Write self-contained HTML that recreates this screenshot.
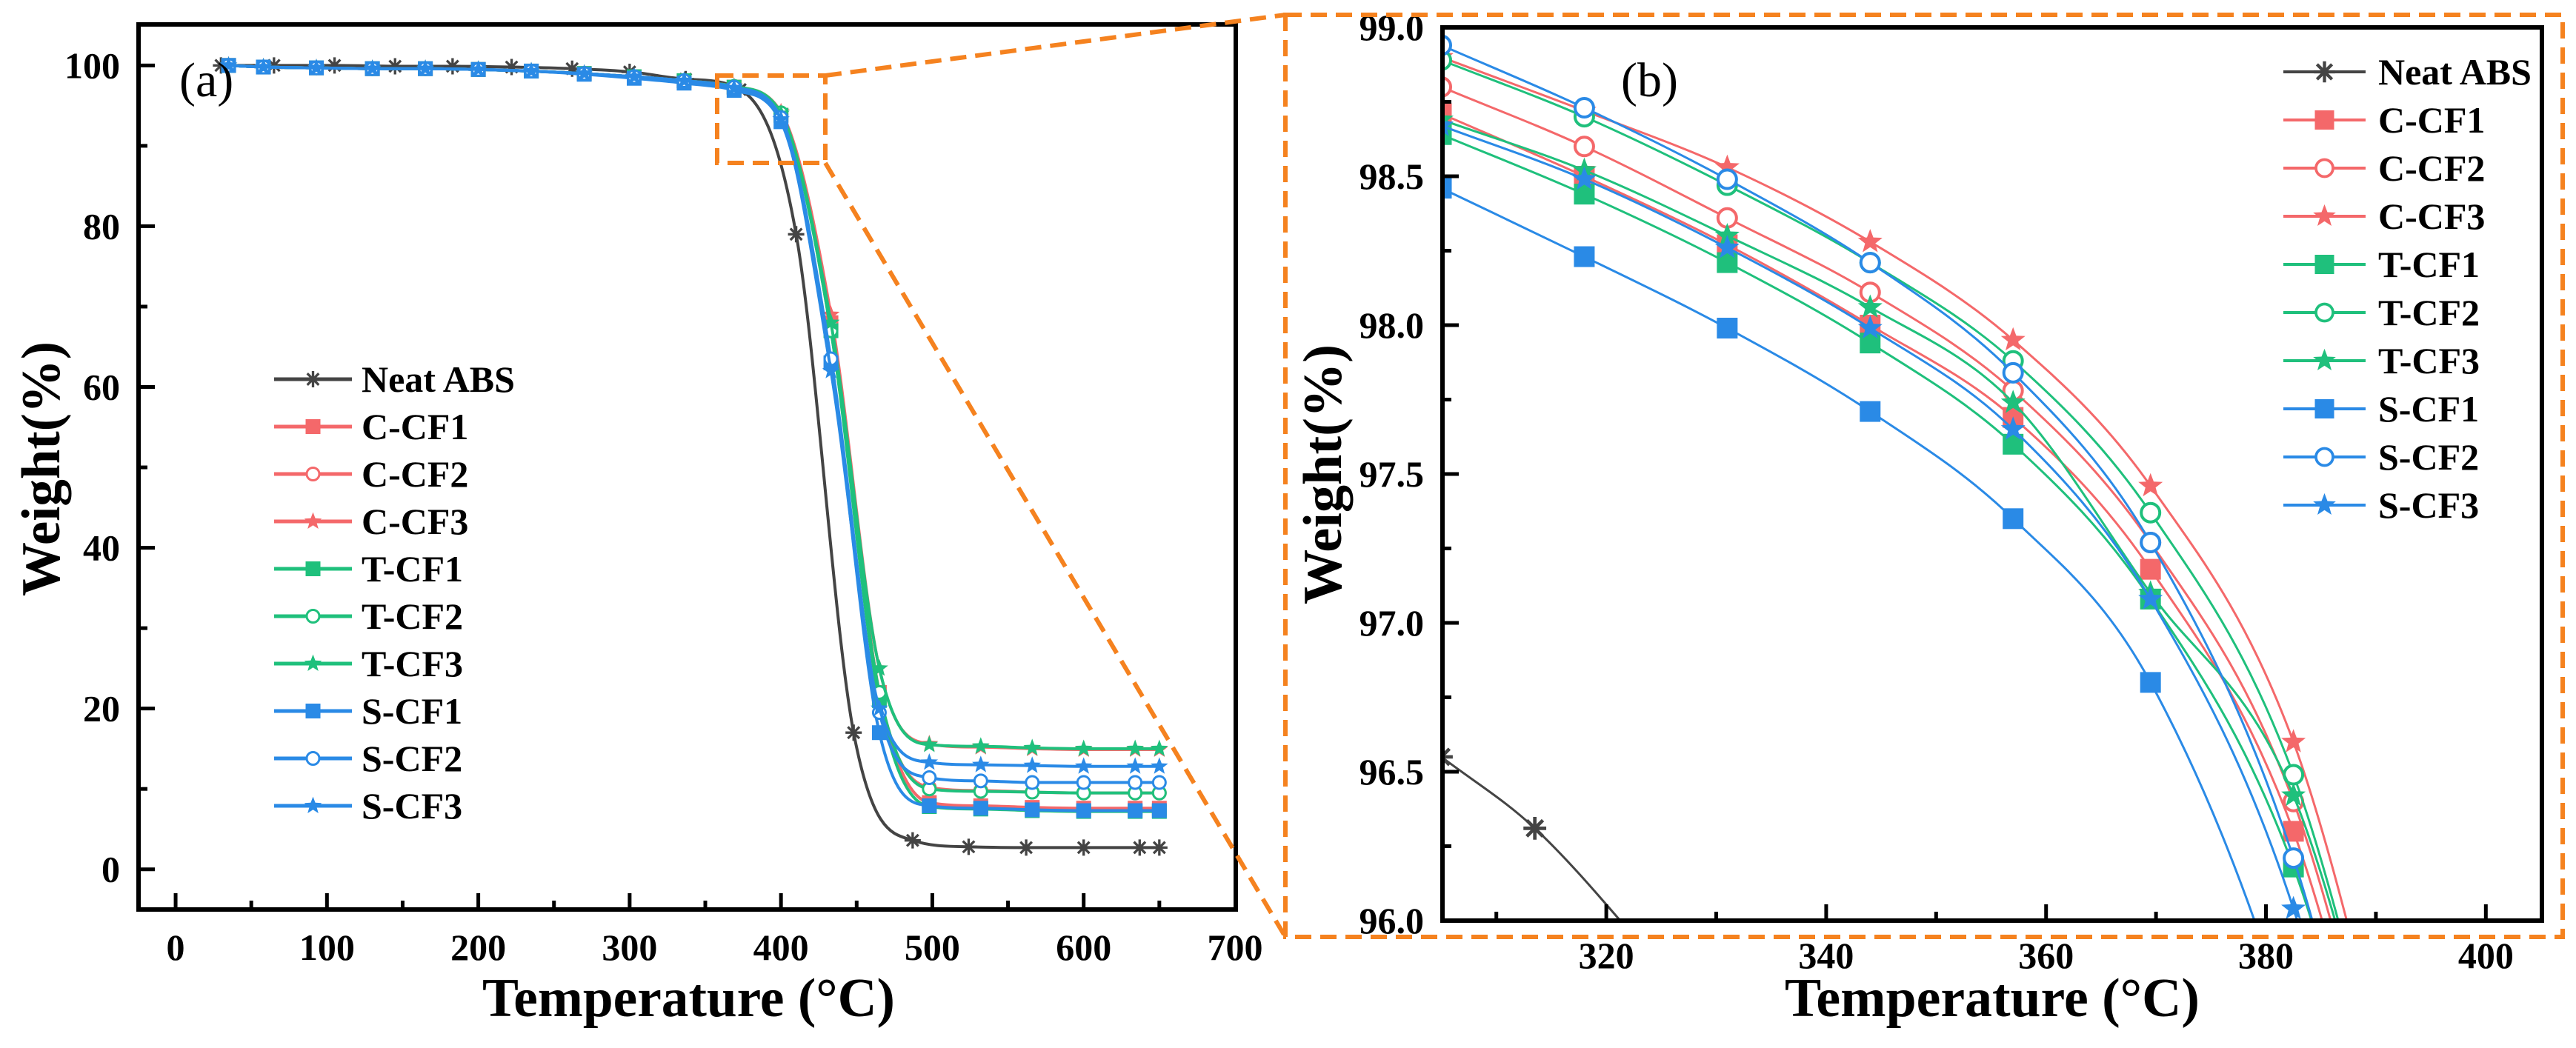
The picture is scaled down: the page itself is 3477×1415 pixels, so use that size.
<!DOCTYPE html>
<html><head><meta charset="utf-8"><style>
html,body{margin:0;padding:0;background:#fff;width:3477px;height:1415px;overflow:hidden;}
svg{display:block;font-family:"Liberation Serif","DejaVu Serif",serif;}
</style></head><body>
<svg id="fig" width="3477" height="1415" viewBox="0 0 3477 1415" xmlns="http://www.w3.org/2000/svg">
<defs>
<clipPath id="clipA"><rect x="187" y="33" width="1481" height="1195"/></clipPath>
<clipPath id="clipB"><rect x="1947" y="37" width="1484" height="1206"/></clipPath>
</defs>
<g id="panelA"></g>
<g id="panelB"></g>
<g id="zoomlines"></g>
</svg>
<script>
// ---------- data: panel (a) ----------
const seriesNames = ["Neat ABS","C-CF1","C-CF2","C-CF3","T-CF1","T-CF2","T-CF3","S-CF1","S-CF2","S-CF3"];
const seriesColors = ["#444444","#f4686a","#f4686a","#f4686a","#1fc07c","#1fc07c","#1fc07c","#2a8ae6","#2a8ae6","#2a8ae6"];
const seriesMarkers = ["asterisk","square","circle","star","square","circle","star","square","circle","star"];

const tempsNeatA = [30,65,105,145,183,222,262,300,337,373,410,448,487,524,562,600,637,650];
const weightNeatA = [100,100,100,99.9,99.9,99.8,99.6,99.2,98.3,97.0,79,17,3.6,2.8,2.7,2.7,2.7,2.7];
const tempsCFA = [35,58,93,130,165,200,235,270,303,336,369,400,433,465,498,532,566,600,634,650];
const weightCCF1 = [100,99.8,99.7,99.6,99.6,99.5,99.3,99.0,98.6,98.1,97.3,93.8,68,22,8.3,7.9,7.7,7.6,7.6,7.6];
const weightCCF2 = [100,99.8,99.7,99.6,99.6,99.5,99.3,99.0,98.6,98.1,97.3,93.9,68,22,10.2,9.8,9.6,9.5,9.5,9.5];
const weightCCF3 = [100,99.8,99.7,99.6,99.6,99.5,99.3,99.0,98.6,98.1,97.4,94.2,69,25,15.6,15.2,15.0,14.9,14.9,14.9];
const weightTCF1 = [100,99.8,99.7,99.6,99.6,99.5,99.3,99.0,98.6,98.1,97.3,93.8,67,21,7.8,7.5,7.3,7.2,7.2,7.2];
const weightTCF2 = [100,99.8,99.7,99.6,99.6,99.5,99.3,99.0,98.6,98.1,97.4,94.1,67,22,10.0,9.7,9.6,9.5,9.5,9.5];
const weightTCF3 = [100,99.8,99.7,99.6,99.6,99.5,99.3,99.0,98.6,98.1,97.3,94.0,68,25,15.5,15.3,15.1,15.0,15.0,15.0];
const weightSCF1 = [100,99.8,99.7,99.6,99.6,99.5,99.3,98.9,98.4,97.8,96.9,93.0,63,17,7.9,7.6,7.4,7.3,7.3,7.3];
const weightSCF2 = [100,99.8,99.7,99.6,99.6,99.5,99.3,99.0,98.6,98.1,97.3,93.5,63.5,19.5,11.4,11.0,10.8,10.8,10.8,10.8];
const weightSCF3 = [100,99.8,99.7,99.6,99.6,99.5,99.3,99.0,98.6,98.1,97.2,93.3,62,20,13.3,13.0,12.9,12.8,12.8,12.8];
const xTicksA = [0,100,200,300,400,500,600,700];
const yTicksA = [0,20,40,60,80,100];

// ---------- data: panel (b) ----------
const tempsNeatB = [305,313.5,326];
const weightNeatB = [96.55,96.31,95.8];
const tempsCFB = [305,318,331,344,357,369.5,382.5,393];
const zCCF1 = [98.71,98.50,98.27,98.00,97.69,97.18,96.30,94.9];
const zCCF2 = [98.80,98.60,98.36,98.11,97.78,97.27,96.40,95.0];
const zCCF3 = [98.90,98.72,98.53,98.28,97.95,97.46,96.60,95.2];
const zTCF1 = [98.64,98.44,98.21,97.94,97.60,97.08,96.18,94.8];
const zTCF2 = [98.89,98.70,98.47,98.21,97.88,97.37,96.49,95.1];
const zTCF3 = [98.69,98.52,98.30,98.06,97.74,97.10,96.42,95.1];
const zSCF1 = [98.46,98.23,97.99,97.71,97.35,96.80,95.60,94.0];
const zSCF2 = [98.94,98.73,98.49,98.21,97.84,97.27,96.21,94.7];
const zSCF3 = [98.67,98.49,98.26,97.99,97.65,97.08,96.04,94.5];
const xTicksB = [320,340,360,380,400];
const yTicksB = [96.0,96.5,97.0,97.5,98.0,98.5,99.0];

const NS = "http://www.w3.org/2000/svg";
function mk(tag, attrs, parent){const e=document.createElementNS(NS,tag);for(const k in attrs)e.setAttribute(k,attrs[k]);if(parent)parent.appendChild(e);return e;}

function monoPath(px,py){
  const n=px.length; if(n<2) return "";
  const d=[],m=new Array(n);
  for(let i=0;i<n-1;i++) d.push((py[i+1]-py[i])/(px[i+1]-px[i]));
  m[0]=d[0]; m[n-1]=d[n-2];
  for(let i=1;i<n-1;i++){ if(d[i-1]*d[i]<=0) m[i]=0; else m[i]=(d[i-1]+d[i])/2; }
  for(let i=0;i<n-1;i++){ if(d[i]===0){m[i]=0;m[i+1]=0;continue;}
    const a=m[i]/d[i],b=m[i+1]/d[i],s=a*a+b*b; if(s>9){const t=3/Math.sqrt(s);m[i]=t*a*d[i];m[i+1]=t*b*d[i];}}
  let p="M"+px[0]+","+py[0];
  for(let i=0;i<n-1;i++){const h=(px[i+1]-px[i])/3;
    p+=" C"+(px[i]+h)+","+(py[i]+m[i]*h)+" "+(px[i+1]-h)+","+(py[i+1]-m[i+1]*h)+" "+px[i+1]+","+py[i+1];}
  return p;
}

function marker(g,type,x,y,s,color){
  let e;
  if(type==="square"){e=mk("rect",{x:x-s/2,y:y-s/2,width:s,height:s,fill:color},g);}
  else if(type==="circle"){e=mk("circle",{cx:x,cy:y,r:s/2-1.5,fill:"#fff",stroke:color,"stroke-width":Math.max(3,s/7)},g);}
  else if(type==="star"){let pts=[];for(let k=0;k<10;k++){const r=k%2?s*0.26:s*0.62;const a=-Math.PI/2+k*Math.PI/5;pts.push((x+r*Math.cos(a)).toFixed(1)+","+(y+r*Math.sin(a)).toFixed(1));}
    e=mk("polygon",{points:pts.join(" "),fill:color},g);}
  else {let d="";for(let k=0;k<4;k++){const a=k*Math.PI/4;const r=s*0.55;d+="M"+(x-r*Math.cos(a))+","+(y-r*Math.sin(a))+"L"+(x+r*Math.cos(a))+","+(y+r*Math.sin(a));}
    e=mk("path",{d:d,stroke:color,"stroke-width":Math.max(3,s/6),fill:"none"},g);}
  
  
  return e;
}

function drawPanel(cfg){
  const root=document.getElementById(cfg.id);
  const sx=v=>cfg.x0+(v-cfg.xmin)/(cfg.xmax-cfg.xmin)*(cfg.x1-cfg.x0);
  const sy=v=>cfg.y1-(v-cfg.ymin)/(cfg.ymax-cfg.ymin)*(cfg.y1-cfg.y0);
  const series=mk("g",{"clip-path":"url(#"+cfg.clip+")"},root);
  
  
  for(let i=0;i<cfg.data.length;i++){
    const ds=cfg.data[i];
    const g=mk("g",{},series);
    
    
    const px=ds.t.map(sx),py=ds.w.map(sy);
    const path=mk("path",{d:monoPath(px,py),fill:"none",stroke:seriesColors[i],"stroke-width":cfg.lw},g);
    
    
    for(let k=0;k<px.length;k++) marker(g,seriesMarkers[i],px[k],py[k],cfg.ms,seriesColors[i]);
  }
  const fr=mk("rect",{x:cfg.x0,y:cfg.y0,width:cfg.x1-cfg.x0,height:cfg.y1-cfg.y0,fill:"none",stroke:"#000","stroke-width":6},root);
  
  
  for(let v=cfg.xmin;v<=cfg.xmax+1e-9;v+=cfg.xminor){
    const vv=Math.round(v/cfg.xminor)*cfg.xminor;
    if(vv<cfg.xmin-1e-9) continue;
    const major=Math.abs(vv/cfg.xmajor-Math.round(vv/cfg.xmajor))<1e-6;
    const X=sx(vv); if(X<cfg.x0+4||X>cfg.x1-4) continue;
    const t=mk("line",{x1:X,x2:X,y1:cfg.y1,y2:cfg.y1-(major?22:12),stroke:"#000","stroke-width":5},root);
    
    
  }
  for(let v=cfg.ymin;v<=cfg.ymax+1e-9;v+=cfg.yminor){
    const vv=Math.round(v/cfg.yminor)*cfg.yminor;
    const major=Math.abs(vv/cfg.ymajor-Math.round(vv/cfg.ymajor))<1e-6;
    const Y=sy(vv); if(Y<cfg.y0+4||Y>cfg.y1-4) continue;
    const t=mk("line",{x1:cfg.x0,x2:cfg.x0+(major?22:12),y1:Y,y2:Y,stroke:"#000","stroke-width":5},root);
    
    
  }
  cfg.xticks.forEach(v=>{
    const t=mk("text",{x:sx(v),y:cfg.xlabY,"text-anchor":"middle","font-size":50,"font-weight":"bold"},root);
    t.textContent=cfg.xfmt(v);
    
    
  });
  cfg.yticks.forEach(v=>{
    const t=mk("text",{x:cfg.ylabX,y:sy(v)+17,"text-anchor":"end","font-size":50,"font-weight":"bold"},root);
    t.textContent=cfg.yfmt(v);
    
    
  });
  const xt=mk("text",{x:cfg.xtitle[0],y:cfg.xtitle[1],"font-size":74,"font-weight":"bold",textLength:cfg.xtitle[2],lengthAdjust:"spacingAndGlyphs"},root);
  xt.textContent="Temperature (°C)";
  
  
  const yt=mk("text",{transform:"translate("+cfg.ytitle[0]+","+cfg.ytitle[1]+") rotate(-90)","font-size":74,"font-weight":"bold",textLength:cfg.ytitle[2],lengthAdjust:"spacingAndGlyphs"},root);
  yt.textContent="Weight(%)";
  
  
  const pl=mk("text",{x:cfg.plabel[0],y:cfg.plabel[1],"font-size":66},root);
  pl.textContent=cfg.plabel[2];
  
  
  const lg=mk("g",{},root);
  
  
  seriesNames.forEach((n,i)=>{
    const L=cfg.legend, Y=L.y+i*L.dy;
    const e=mk("g",{},lg);
    
    
    mk("line",{x1:L.x1,x2:L.x2,y1:Y,y2:Y,stroke:seriesColors[i],"stroke-width":cfg.lw+1},e);
    marker(e,seriesMarkers[i],(L.x1+L.x2)/2,Y,L.ms,seriesColors[i]);
    const t=mk("text",{x:L.tx,y:Y+17,"font-size":L.fs,"font-weight":"bold"},e);
    t.textContent=n;
  });
}

drawPanel({id:"panelA",clip:"clipA",x0:187,x1:1668,y0:33,y1:1228,xmin:-24.5,xmax:700.5,ymin:-5,ymax:105.1,
  xminor:50,xmajor:100,yminor:10,ymajor:20,lw:4,ms:20,
  data:[{t:tempsNeatA,w:weightNeatA},{t:tempsCFA,w:weightCCF1},{t:tempsCFA,w:weightCCF2},{t:tempsCFA,w:weightCCF3},
        {t:tempsCFA,w:weightTCF1},{t:tempsCFA,w:weightTCF2},{t:tempsCFA,w:weightTCF3},
        {t:tempsCFA,w:weightSCF1},{t:tempsCFA,w:weightSCF2},{t:tempsCFA,w:weightSCF3}],
  xticks:xTicksA,yticks:yTicksA,xfmt:v=>String(v),yfmt:v=>String(v),xlabY:1296,ylabX:162,
  xtitle:[651,1372,557],ytitle:[80,805,344],plabel:[242,130,"(a)"],
  legend:{x1:370,x2:475,tx:488,y:512,dy:64,ms:20,fs:50}});

drawPanel({id:"panelB",clip:"clipB",x0:1947,x1:3431,y0:37,y1:1243,xmin:305.1,xmax:405.1,ymin:96,ymax:99,
  xminor:10,xmajor:20,yminor:0.25,ymajor:0.5,lw:3,ms:28,
  data:[{t:tempsNeatB,w:weightNeatB},{t:tempsCFB,w:zCCF1},{t:tempsCFB,w:zCCF2},{t:tempsCFB,w:zCCF3},
        {t:tempsCFB,w:zTCF1},{t:tempsCFB,w:zTCF2},{t:tempsCFB,w:zTCF3},
        {t:tempsCFB,w:zSCF1},{t:tempsCFB,w:zSCF2},{t:tempsCFB,w:zSCF3}],
  xticks:xTicksB,yticks:yTicksB,xfmt:v=>String(v),yfmt:v=>v.toFixed(1),xlabY:1307,ylabX:1922,
  xtitle:[2409,1372,560],ytitle:[1810,816,351],plabel:[2188,130,"(b)"],
  legend:{x1:3082,x2:3193,tx:3210,y:97,dy:65,ms:26,fs:50}});

const zl=document.getElementById("zoomlines");
const dashAttrs={fill:"none",stroke:"#f5821f","stroke-width":6,"stroke-dasharray":"22 12"};
const b1=mk("rect",Object.assign({x:968,y:102,width:146,height:118},dashAttrs),zl);


const b2=mk("rect",Object.assign({x:1735,y:20,width:1724,height:1245},dashAttrs),zl);


const l1=mk("line",Object.assign({x1:1114,y1:102,x2:1735,y2:20},dashAttrs),zl);


const l2=mk("line",Object.assign({x1:1114,y1:220,x2:1735,y2:1265},dashAttrs),zl);


</script>
</body></html>
